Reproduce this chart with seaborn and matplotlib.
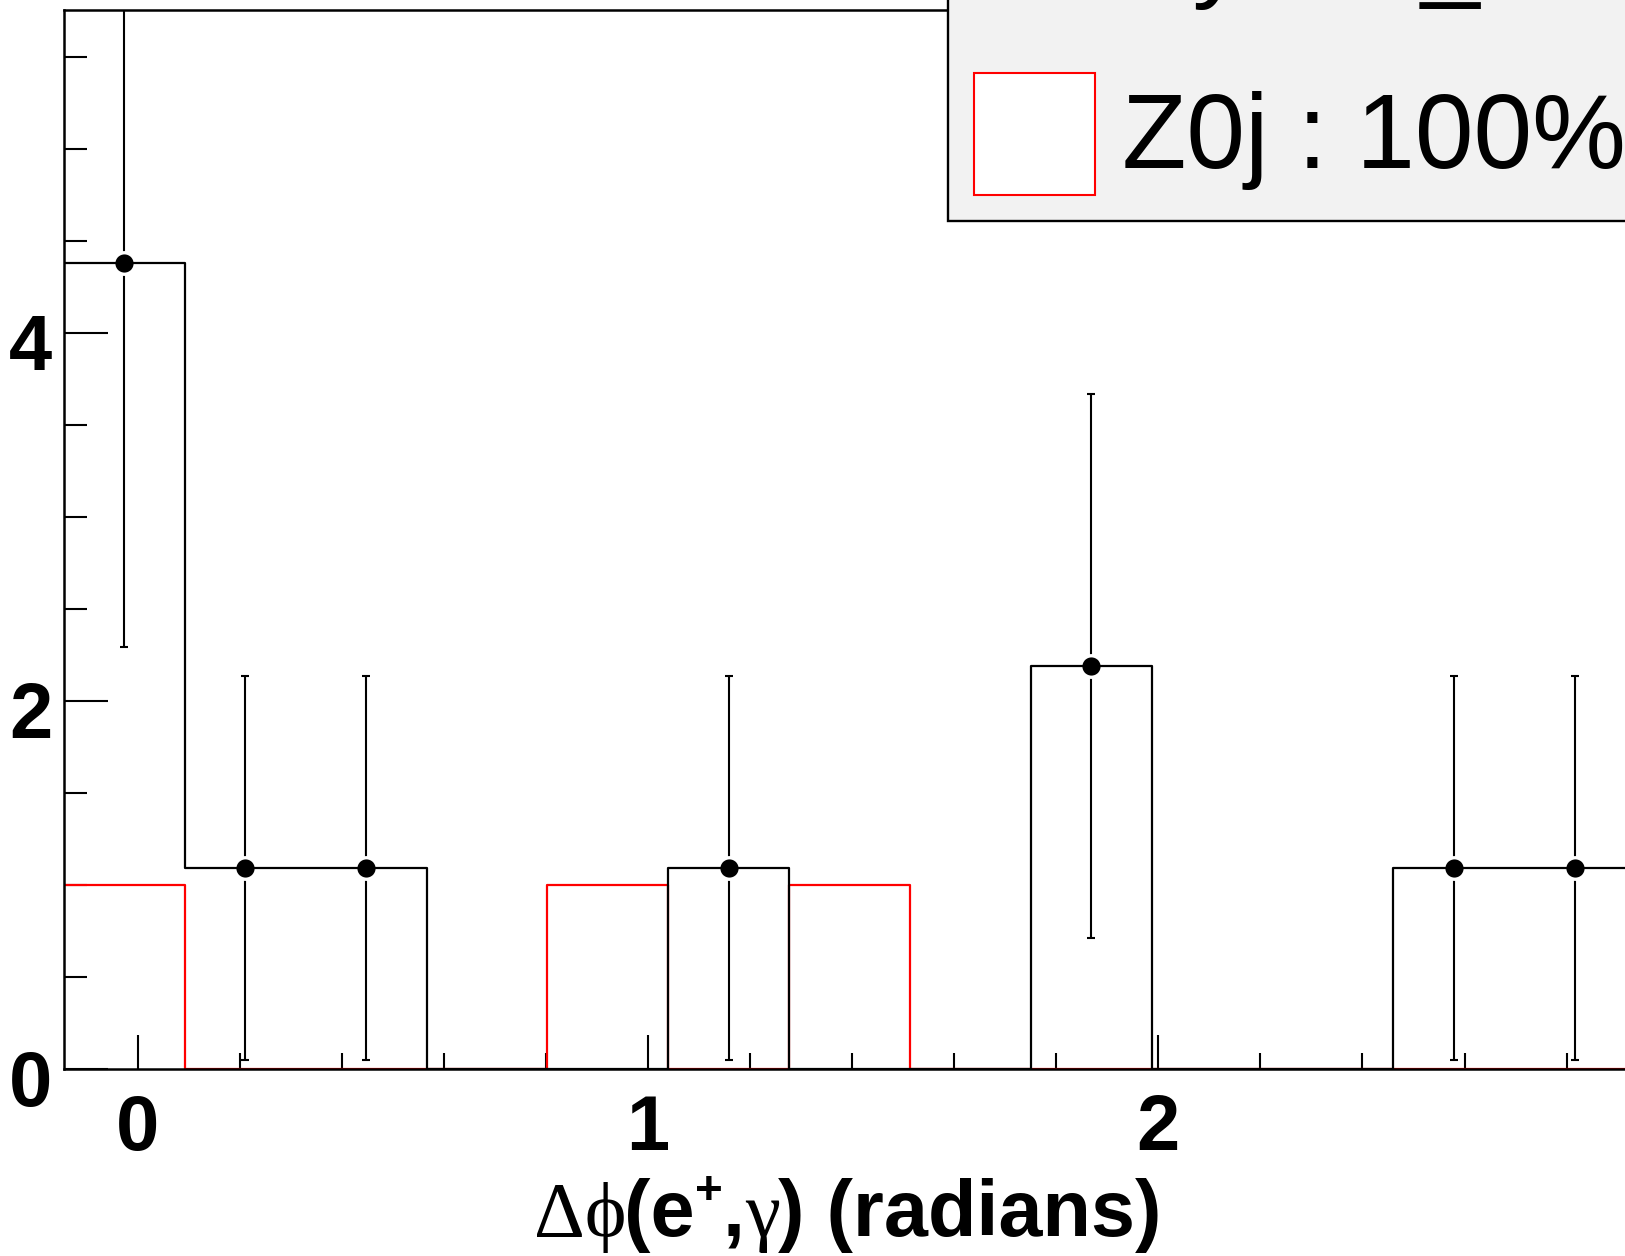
import numpy as np
import pandas as pd
import matplotlib
matplotlib.use("Agg")
import matplotlib.pyplot as plt
import matplotlib.transforms as mtrans
from matplotlib.patches import Rectangle
from matplotlib.ticker import MultipleLocator
import seaborn as sns

# ---------------- data ----------------
hist_range = (-0.1443, 2.934)
n_bins = 13
data_counts = [4.38, 1.09, 1.09, 0.0, 0.0, 1.09, 0.0, 0.0, 2.19, 0.0, 0.0, 1.09, 1.09]
data_errors = [2.09, 1.045, 1.045, 0.0, 0.0, 1.045, 0.0, 0.0, 1.48, 0.0, 0.0, 1.045, 1.045]
z0j_counts = [1.0, 0.0, 0.0, 0.0, 1.0, 0.0, 1.0, 0.0, 0.0, 0.0, 0.0, 0.0, 0.0]
legend_labels = ["Ey : 8t_", "Z0j : 100%"]
x_ticks = [0, 1, 2]
x_ticklabels = ["0", "1", "2"]
y_ticks = [0, 2, 4]
y_ticklabels = ["0", "2", "4"]
y_max = 5.756

W, H, DPI = 1625, 1256, 100

sns.set_theme(style="ticks")
plt.rcParams["font.family"] = ["Liberation Sans", "DejaVu Sans"]

fig = plt.figure(figsize=(W / DPI, H / DPI), dpi=DPI)
fig.patch.set_facecolor("white")
ax = fig.add_axes([64 / W, 1 - 1068.5 / H, (1635 - 64) / W, (1068.5 - 10) / H])
ax.set_facecolor("white")

edges = np.linspace(hist_range[0], hist_range[1], n_bins + 1)
centers = 0.5 * (edges[:-1] + edges[1:])
df = pd.DataFrame({"dphi": centers, "data": data_counts, "z0j": z0j_counts})
bin_list = [float(e) for e in edges]

sns.histplot(data=df, x="dphi", weights="z0j", bins=bin_list, element="step", fill=False,
             color="#ff0000", linewidth=1.6, ax=ax, zorder=2.0)
sns.histplot(data=df, x="dphi", weights="data", bins=bin_list, element="step", fill=False,
             color="black", linewidth=1.6, ax=ax, zorder=2.4)

dc = np.array(data_counts)
de = np.array(data_errors)
mask = dc > 0
ax.errorbar(centers[mask], dc[mask], yerr=de[mask], fmt="none", ecolor="black",
            elinewidth=1.5, capsize=3, capthick=1.5, zorder=2.1)
sns.scatterplot(x=centers[mask], y=dc[mask], s=240, color="black", edgecolor="white",
                linewidth=2.4, ax=ax, zorder=2.2, legend=False)

ax.set_xlim(hist_range)
ax.set_ylim(0, y_max)
ax.set_xlabel("")
ax.set_ylabel("")
ax.set_xticks(x_ticks)
ax.set_xticklabels(x_ticklabels, fontweight="bold")
ax.set_yticks(y_ticks)
ax.set_yticklabels(y_ticklabels, fontweight="bold")
ax.xaxis.set_minor_locator(MultipleLocator(0.2))
ax.yaxis.set_minor_locator(MultipleLocator(0.5))

ax.tick_params(axis="x", which="major", direction="in", length=24.5, width=1.5,
               pad=17.6, labelsize=56, top=False, color="black", labelcolor="black")
ax.tick_params(axis="x", which="minor", direction="in", length=11.2, width=1.5, top=False,
               color="black")
ax.tick_params(axis="y", which="major", direction="in", length=32, width=1.5,
               pad=8.6, labelsize=56, right=False, color="black", labelcolor="black")
ax.tick_params(axis="y", which="minor", direction="in", length=16.4, width=1.5, right=False,
               color="black")
for sp in ax.spines.values():
    sp.set_visible(True)
    sp.set_color("black")
    sp.set_linewidth(1.8)

for lbl in ax.get_yticklabels():
    lbl.set_transform(lbl.get_transform() +
                      mtrans.ScaledTranslation(0, -9 / DPI, fig.dpi_scale_trans))

# ---------------- legend ----------------
fig.add_artist(Rectangle((948 / W, 1 - 221 / H), 1.0, 0.5, transform=fig.transFigure,
                         facecolor="#f2f2f2", edgecolor="black", lw=1.7, zorder=5))
fig.add_artist(Rectangle((974 / W, 1 - 195 / H), (1095 - 974) / W, (195 - 72.5) / H,
                         transform=fig.transFigure, facecolor="white",
                         edgecolor="#ff0000", lw=1.5, zorder=6))
fig.text(1122 / W, 1 - (-12) / H, legend_labels[0], fontsize=76, ha="left",
         va="baseline", color="black", zorder=7)
fig.text(1122 / W, 1 - 168 / H, legend_labels[1], fontsize=76, ha="left",
         va="baseline", color="black", zorder=7)

# ---------------- x title (mixed fonts) ----------------
serif = ["Liberation Serif", "DejaVu Serif"]
sans = ["Liberation Sans", "DejaVu Sans"]
tsize = 57
pieces = [
    ("\u0394\u03d5", serif, "normal", tsize, 0),
    ("(e", sans, "bold", tsize, 0),
    ("+", sans, "bold", tsize * 0.6, 32),
    (",", sans, "bold", tsize, 0),
    ("\u03b3", serif, "normal", tsize, 0),
    (") (radians)", sans, "bold", tsize, 0),
]
renderer = fig.canvas.get_renderer()
x_px = 534.0
base_px = 1236.0
for s, fam, wt, sz, rise in pieces:
    t = fig.text(x_px / W, (H - base_px + rise) / H, s, family=fam, fontweight=wt,
                 fontsize=sz, ha="left", va="baseline", color="black")
    bb = t.get_window_extent(renderer)
    x_px = bb.x1 - (2 if fam is serif else 0)

fig.savefig("out.png", dpi=DPI, facecolor="white")
